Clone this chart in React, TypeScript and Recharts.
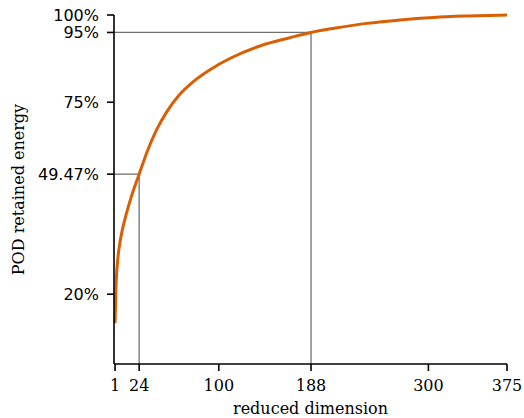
import React from 'react';
import {
  Line,
  LineChart,
  ReferenceLine,
  XAxis,
  YAxis,
} from 'recharts';

// reduced dimension vs. retained energy (%)
const dims = [1, 2, 3, 5, 8, 12, 17, 24, 32, 40, 50, 62, 76, 92, 111, 140, 168, 188, 210, 241, 273, 305, 337, 375];
const energy = [11.7, 23, 28, 33.5, 38.5, 43.3, 48.4, 54.4, 61.1, 66.7, 72.1, 77, 81, 84.4, 87.6, 91.2, 93.5, 95, 96.2, 97.6, 98.6, 99.3, 99.7, 100];

const xTicks = [1, 24, 100, 188, 300, 375];
const yTicks = [20, 54.4, 75, 95, 100];
const yTickLabels = ['20%', '49.47%', '75%', '95%', '100%'];

// marked points: [dimension, energy]
const markA = [24, 54.4];
const markB = [188, 95];

const data = dims.map((d, i) => ({ dim: d, energy: energy[i] }));

const AXIS = '#000';
const GUIDE = '#707070';
const CURVE = '#d95f02';

const YLabel = ({ viewBox }: any) => {
  const cy = viewBox.y + viewBox.height / 2;
  return (
    <text
      x={18}
      y={cy}
      transform={`rotate(-90, 18, ${cy})`}
      textAnchor="middle"
      dominantBaseline="central"
      fontFamily="DejaVu Serif"
      fontSize={16}
      fill="#000"
    >
      POD retained energy
    </text>
  );
};

const App = () => {
  return (
    <div style={{ position: 'absolute', left: 0, top: 0 }}>
      <LineChart
        width={524}
        height={418}
        data={data}
        margin={{ top: 15, right: 17, bottom: 0, left: 0 }}
      >
        <XAxis
          dataKey="dim"
          type="number"
          domain={[0, 375]}
          ticks={xTicks}
          interval={0}
          height={54}
          tickSize={7}
          tickMargin={9}
          stroke={AXIS}
          strokeWidth={1.6}
          tick={{ fill: '#000', fontFamily: 'DejaVu Serif', fontSize: 16 }}
          label={{
            value: 'reduced dimension',
            position: 'insideBottom',
            offset: 4,
            fill: '#000',
            fontFamily: 'DejaVu Serif',
            fontSize: 16,
          }}
        />
        <YAxis
          type="number"
          domain={[0, 100]}
          ticks={yTicks}
          interval={0}
          width={114}
          tickSize={7}
          tickMargin={8}
          stroke={AXIS}
          strokeWidth={1.6}
          tickFormatter={(v: number) => yTickLabels[yTicks.indexOf(v)]}
          tick={{ fill: '#000', fontFamily: 'DejaVu Sans', fontSize: 16 }}
          label={<YLabel />}
        />
        <ReferenceLine
          segment={[{ x: 0, y: markA[1] }, { x: markA[0], y: markA[1] }]}
          stroke={GUIDE}
          strokeWidth={1.3}
        />
        <ReferenceLine
          segment={[{ x: markA[0], y: 0 }, { x: markA[0], y: markA[1] }]}
          stroke={GUIDE}
          strokeWidth={1.3}
        />
        <ReferenceLine
          segment={[{ x: 0, y: markB[1] }, { x: markB[0], y: markB[1] }]}
          stroke={GUIDE}
          strokeWidth={1.3}
        />
        <ReferenceLine
          segment={[{ x: markB[0], y: 0 }, { x: markB[0], y: markB[1] }]}
          stroke={GUIDE}
          strokeWidth={1.3}
        />
        <Line
          type="monotone"
          dataKey="energy"
          stroke={CURVE}
          strokeWidth={3}
          dot={false}
          isAnimationActive={false}
        />
      </LineChart>
    </div>
  );
};

export default App;
